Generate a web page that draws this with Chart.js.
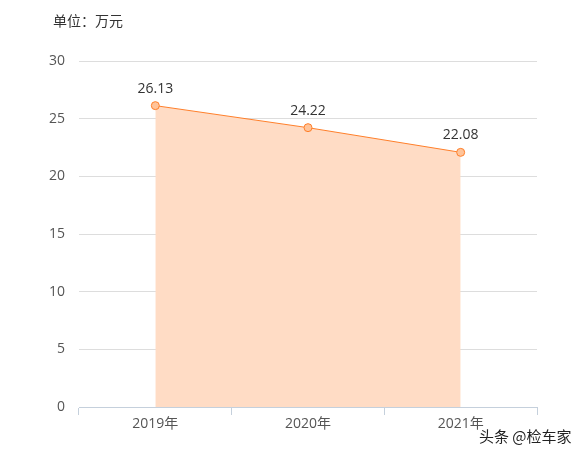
<!DOCTYPE html>
<html>
<head>
<meta charset="utf-8">
<script src="https://cdn.jsdelivr.net/npm/chart.js@4"></script>
<style>
  body { margin: 0; background: #fff; }
  #wrap { position: relative; width: 586px; height: 456px; }
  #unit { position: absolute; left: 53px; top: 10px; font: 14px "Noto Sans CJK SC", sans-serif; color: #333; }
  #mark { position: absolute; left: 479px; top: 425px; font: 15px "Noto Sans CJK SC", sans-serif; color: #222; text-shadow: 0 0 2px #fff, 0 0 2px #fff; }
</style>
</head>
<body>
<div id="wrap">
  <canvas id="myChart" width="586" height="456"></canvas>
  <div id="unit">单位：万元</div>
  <div id="mark">头条 @检车家</div>
</div>
<script>
// datos
const categorias = ["2019年", "2020年", "2021年"];
const valores = [26.13, 24.22, 22.08];
const ticksY = [0, 5, 10, 15, 20, 25, 30];

const fuente = '"Open Sans", "Noto Sans CJK SC", sans-serif';

// etiquetas encima de los puntos
const etiquetasPlugin = {
  id: "etiquetas",
  afterDatasetsDraw(chart) {
    const ctx = chart.ctx;
    const meta = chart.getDatasetMeta(0);
    ctx.save();
    ctx.font = "14px " + fuente;
    ctx.fillStyle = "#333";
    ctx.textAlign = "center";
    ctx.textBaseline = "middle";
    meta.data.forEach((pt, i) => {
      ctx.fillText(valores[i].toFixed(2), pt.x, pt.y - 17);
    });
    ctx.restore();
  },
};

const ctx = document.getElementById("myChart").getContext("2d");

new Chart(ctx, {
  type: "line",
  data: {
    labels: categorias,
    datasets: [
      {
        data: valores,
        borderColor: "#FF7F2A",
        borderWidth: 1,
        backgroundColor: "rgba(255,220,197,1)",
        fill: "origin",
        pointRadius: 4,
        pointBorderWidth: 1,
        pointBackgroundColor: "#FFC49A",
        pointBorderColor: "#FF7F2A",
        tension: 0,
      },
    ],
  },
  options: {
    responsive: false,
    animation: false,
    layout: { padding: { top: 61, right: 49, left: 0, bottom: 0 } },
    plugins: {
      legend: { display: false },
      tooltip: { enabled: false },
    },
    scales: {
      x: {
        offset: true,
        grid: {
          offset: true,
          drawOnChartArea: false,
          tickLength: 8,
          color: "#C5D0DC",
        },
        border: { color: "#C5D0DC" },
        ticks: {
          color: "#555",
          font: { size: 14, family: fuente },
          padding: 1,
        },
        afterFit(scale) {
          scale.height = 49;
        },
      },
      y: {
        min: 0,
        max: 30,
        afterBuildTicks(scale) {
          scale.ticks = ticksY.map((v) => ({ value: v }));
        },
        grid: { color: "#DDDDDD", drawTicks: false },
        border: { display: false },
        ticks: {
          color: "#555",
          padding: 14,
          font: { size: 14, family: fuente },
        },
        afterFit(scale) {
          scale.width = 79;
        },
      },
    },
  },
  plugins: [etiquetasPlugin],
});
</script>
</body>
</html>
